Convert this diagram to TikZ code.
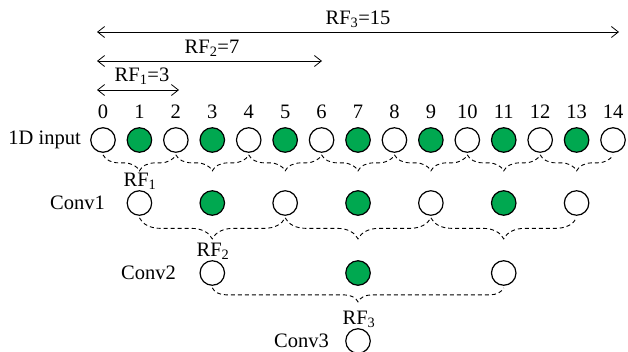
\documentclass[tikz,border=0pt]{standalone}
\usepackage{fontspec}
\setmainfont{Liberation Serif}
\usetikzlibrary{arrows.meta,decorations.pathreplacing}
\definecolor{cgreen}{RGB}{0,168,80}
\begin{document}
\begin{tikzpicture}[x=1pt,y=-1pt,
  font=\fontsize{20.5}{22}\selectfont,
  cell/.style={circle,draw=black,line width=1.2pt,minimum size=24.5pt,inner sep=0pt,fill=white},
  gcell/.style={cell,fill=cgreen},
  rfarrow/.style={line width=0.8pt,{Straight Barb[length=7pt,width=11pt]}-{Straight Barb[length=7pt,width=11pt]}},
  dbrace/.style={decorate,decoration={brace,mirror,amplitude=#1},dashed,dash pattern=on 4pt off 3pt,line width=0.9pt},
  lbl/.style={inner sep=0pt}]
\useasboundingbox (0,0) rectangle (628,351);
% input row
\foreach \i in {0,...,14}{
  \pgfmathsetmacro{\xx}{103+36.43*\i}
  \pgfmathtruncatemacro{\odd}{mod(\i,2)}
  \ifnum\odd=1
    \node[gcell] (in\i) at (\xx,140) {};
  \else
    \node[cell] (in\i) at (\xx,140) {};
  \fi
  \node[lbl] (num\i) at (\xx,112) {\i};
}
\node[lbl,anchor=east] (lin) at (81,140) {1D input};
% conv1
\foreach \i/\s in {1/cell,3/gcell,5/cell,7/gcell,9/cell,11/gcell,13/cell}{
  \node[\s] (c1\i) at (103+36.43*\i,203) {};
}
\node[lbl,anchor=east] (lc1) at (105,203) {Conv1};
% conv2
\foreach \i/\s in {3/cell,7/gcell,11/cell}{
  \node[\s] (c2\i) at (103+36.43*\i,273) {};
}
\node[lbl,anchor=east] (lc2) at (176,273) {Conv2};
% conv3
\node[cell] (c37) at (103+36.43*7,341) {};
\node[lbl,anchor=east] (lc3) at (329,341) {Conv3};
% braces input -> conv1
\foreach \a/\b in {0/2,2/4,4/6,6/8,8/10,10/12,12/14}{
  \draw[dbrace=16pt] ([yshift=-2pt]in\a.south) -- ([yshift=-2pt]in\b.south);
}
% braces conv1 -> conv2
\foreach \a/\b in {1/5,5/9,9/13}{
  \draw[dbrace=21pt] ([yshift=-2pt]c1\a.south) -- ([yshift=-2pt]c1\b.south);
}
% brace conv2 -> conv3
\draw[dbrace=14pt] ([yshift=-2pt]c23.south) -- ([yshift=-2pt]c211.south);
% RF labels
\node[lbl] (rf1) at (140,181) {RF\textsubscript{1}};
\node[lbl] (rf2) at (213,251) {RF\textsubscript{2}};
\node[lbl] (rf3) at (359,319) {RF\textsubscript{3}};
% top arrows
\coordinate (a0) at (97,90);
\coordinate (a2) at (179,90);
\coordinate (b0) at (97,61);
\coordinate (b6) at (322,61);
\coordinate (d0) at (97,32);
\coordinate (d14) at (619,32);
\draw[rfarrow] (a0) -- (a2);
\draw[rfarrow] (b0) -- (b6);
\draw[rfarrow] (d0) -- (d14);
\node[lbl] (t1) at (142,76) {RF\textsubscript{1}=3};
\node[lbl] (t2) at (212,48) {RF\textsubscript{2}=7};
\node[lbl] (t3) at (358,19) {RF\textsubscript{3}=15};
\end{tikzpicture}
\end{document}
